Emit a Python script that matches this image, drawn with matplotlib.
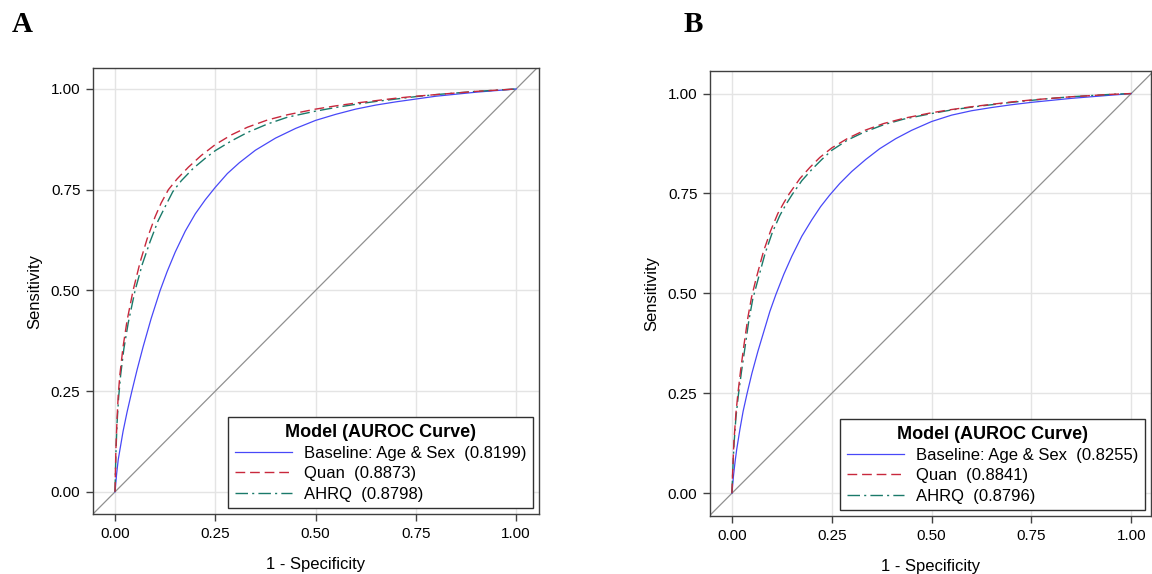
import matplotlib.pyplot as plt

# ---- data (1 - specificity, sensitivity) ----
a_base_x = [0, 0.004, 0.008, 0.014, 0.02, 0.03, 0.042, 0.055, 0.07, 0.09, 0.1125, 0.13, 0.15, 0.175, 0.2,
            0.225, 0.25, 0.28, 0.31, 0.35, 0.4, 0.45, 0.5, 0.55, 0.6, 0.65, 0.7, 0.75, 0.8, 0.85, 0.9, 0.95, 1.0]
a_base_y = [0, 0.045, 0.08, 0.115, 0.15, 0.198, 0.25, 0.303, 0.36, 0.43, 0.5, 0.547, 0.595, 0.647, 0.69,
            0.725, 0.756, 0.79, 0.817, 0.848, 0.878, 0.902, 0.922, 0.937, 0.95, 0.96, 0.968, 0.975, 0.982,
            0.987, 0.992, 0.996, 1.0]
a_quan_x = [0, 0.002, 0.005, 0.008, 0.012, 0.02, 0.03, 0.045, 0.0625, 0.08, 0.1, 0.115, 0.133, 0.155, 0.183,
            0.215, 0.25, 0.29, 0.33, 0.38, 0.43, 0.5, 0.55, 0.6, 0.65, 0.7, 0.75, 0.8, 0.85, 0.9, 0.95, 1.0]
a_quan_y = [0, 0.10, 0.18, 0.24, 0.29, 0.36, 0.425, 0.5, 0.57, 0.628, 0.683, 0.717, 0.75, 0.777, 0.806,
            0.835, 0.862, 0.886, 0.905, 0.923, 0.936, 0.95, 0.958, 0.965, 0.971, 0.977, 0.982, 0.986, 0.99,
            0.994, 0.997, 1.0]
a_ahrq_x = [0, 0.002, 0.005, 0.009, 0.014, 0.022, 0.033, 0.05, 0.068, 0.087, 0.107, 0.125, 0.144, 0.165,
            0.195, 0.225, 0.25, 0.29, 0.33, 0.38, 0.43, 0.5, 0.55, 0.6, 0.65, 0.7, 0.75, 0.8, 0.85, 0.9, 0.95, 1.0]
a_ahrq_y = [0, 0.09, 0.17, 0.235, 0.29, 0.355, 0.42, 0.5, 0.565, 0.62, 0.672, 0.708, 0.745, 0.772,
            0.803, 0.828, 0.847, 0.871, 0.892, 0.913, 0.93, 0.945, 0.954, 0.962, 0.969, 0.975, 0.981, 0.986,
            0.99, 0.994, 0.997, 1.0]

b_base_x = [0, 0.004, 0.008, 0.012, 0.02, 0.028, 0.038, 0.05, 0.065, 0.08, 0.095, 0.11, 0.13, 0.15, 0.175,
            0.2, 0.222, 0.244, 0.27, 0.3, 0.335, 0.37, 0.41, 0.45, 0.5, 0.55, 0.6, 0.65, 0.7, 0.75, 0.8, 0.85,
            0.9, 0.95, 1.0]
b_base_y = [0, 0.045, 0.08, 0.11, 0.16, 0.205, 0.25, 0.3, 0.355, 0.405, 0.455, 0.497, 0.548, 0.593, 0.643,
            0.684, 0.717, 0.745, 0.775, 0.805, 0.835, 0.862, 0.887, 0.908, 0.93, 0.946, 0.957, 0.965, 0.972,
            0.978, 0.983, 0.988, 0.992, 0.996, 1.0]
b_quan_x = [0, 0.002, 0.005, 0.01, 0.015, 0.022, 0.03, 0.04, 0.049, 0.06, 0.079, 0.097, 0.115, 0.13, 0.144,
            0.17, 0.195, 0.22, 0.25, 0.29, 0.33, 0.38, 0.43, 0.5, 0.55, 0.6, 0.65, 0.7, 0.75, 0.8, 0.85, 0.9,
            0.95, 1.0]
b_quan_y = [0, 0.06, 0.13, 0.2, 0.25, 0.31, 0.37, 0.44, 0.49, 0.535, 0.605, 0.657, 0.7, 0.727, 0.75,
            0.787, 0.815, 0.84, 0.864, 0.888, 0.907, 0.925, 0.938, 0.952, 0.96, 0.967, 0.973, 0.979, 0.984,
            0.988, 0.992, 0.995, 0.998, 1.0]
b_ahrq_x = [0, 0.002, 0.005, 0.01, 0.016, 0.024, 0.032, 0.042, 0.052, 0.064, 0.083, 0.101, 0.12, 0.135, 0.15,
            0.175, 0.2, 0.225, 0.25, 0.29, 0.33, 0.38, 0.43, 0.5, 0.55, 0.6, 0.65, 0.7, 0.75, 0.8, 0.85, 0.9,
            0.95, 1.0]
b_ahrq_y = [0, 0.055, 0.12, 0.19, 0.245, 0.305, 0.36, 0.43, 0.485, 0.53, 0.6, 0.652, 0.695, 0.722, 0.746,
            0.782, 0.81, 0.835, 0.858, 0.884, 0.903, 0.922, 0.936, 0.95, 0.959, 0.966, 0.972, 0.978, 0.983,
            0.988, 0.992, 0.995, 0.998, 1.0]

labels_a = ["Baseline: Age & Sex  (0.8199)", "Quan  (0.8873)", "AHRQ  (0.8798)"]
labels_b = ["Baseline: Age & Sex  (0.8255)", "Quan  (0.8841)", "AHRQ  (0.8796)"]
ticks = [0.0, 0.25, 0.5, 0.75, 1.0]
tick_labels = ["0.00", "0.25", "0.50", "0.75", "1.00"]

plt.rcParams['font.family'] = ['Liberation Sans', 'DejaVu Sans']

fig = plt.figure(figsize=(11.52, 5.74), dpi=100)
axA = fig.add_axes([0.0807, 0.1045, 0.3872, 0.777])
axB = fig.add_axes([0.6163, 0.101, 0.383, 0.775])

c_base = '#4848f8'
c_quan = '#c8283c'
c_ahrq = '#1a7a6a'


def draw(ax, base, quan, ahrq, labels, lims):
    ax.plot([-0.2, 1.2], [-0.2, 1.2], color='#909090', lw=0.9, zorder=2)
    ax.plot(base[0], base[1], color=c_base, lw=0.9, label=labels[0], zorder=3)
    ax.plot(quan[0], quan[1], color=c_quan, lw=1.0, ls=(0, (7, 3.5)), label=labels[1], zorder=4)
    ax.plot(ahrq[0], ahrq[1], color=c_ahrq, lw=1.0, ls=(0, (9, 3, 1.5, 3)), label=labels[2], zorder=3)
    ax.set_xlim(lims[0])
    ax.set_ylim(lims[1])
    ax.set_xticks(ticks)
    ax.set_xticklabels(tick_labels)
    ax.set_yticks(ticks)
    ax.set_yticklabels(tick_labels)
    ax.grid(True, color='#e4e4e4', lw=1.0, zorder=0)
    ax.set_axisbelow(True)
    ax.tick_params(length=5, width=1, color='#404040', labelsize=11, pad=4)
    for s in ax.spines.values():
        s.set_color('#404040')
        s.set_linewidth(1.0)
    ax.set_xlabel("1 - Specificity", fontsize=12, labelpad=12)
    ax.set_ylabel("Sensitivity", fontsize=12, labelpad=6)
    leg = ax.legend(loc='lower right', title="Model (AUROC Curve)", fontsize=12,
                    title_fontproperties={'weight': 'bold', 'size': 13},
                    fancybox=False, edgecolor='#303030', framealpha=1,
                    handlelength=3.4, handletextpad=0.75, borderaxespad=0.35,
                    labelspacing=0.32, borderpad=0.4)
    leg.get_frame().set_linewidth(1.0)


draw(axA, (a_base_x, a_base_y), (a_quan_x, a_quan_y), (a_ahrq_x, a_ahrq_y), labels_a,
     ((-0.055, 1.057), (-0.055, 1.052)))
draw(axB, (b_base_x, b_base_y), (b_quan_x, b_quan_y), (b_ahrq_x, b_ahrq_y), labels_b,
     ((-0.055, 1.05), (-0.057, 1.056)))

fig.text(0.010, 0.9443, "A", fontsize=21, fontweight='bold', family='Liberation Serif', va='baseline')
fig.text(0.593, 0.9443, "B", fontsize=21, fontweight='bold', family='Liberation Serif', va='baseline')

fig.savefig("out.png", dpi=100)
